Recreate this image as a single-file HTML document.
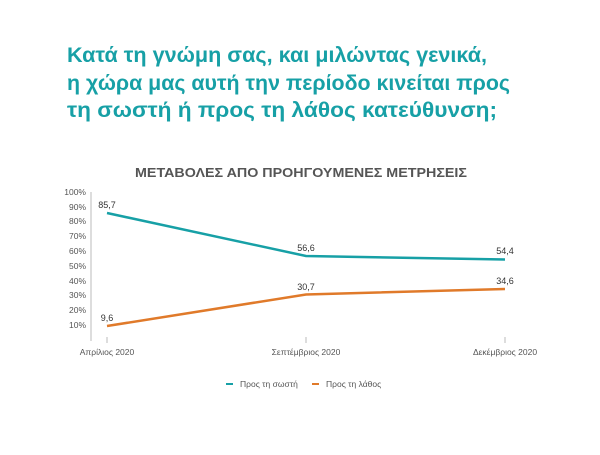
<!DOCTYPE html>
<html><head><meta charset="utf-8"><style>
body{margin:0;background:#fff;width:600px;height:450px;overflow:hidden;font-family:"Liberation Sans","DejaVu Sans",sans-serif}
</style></head><body>
<svg width="600" height="450" xmlns="http://www.w3.org/2000/svg" font-family="Liberation Sans, DejaVu Sans, sans-serif">
<g fill="#17a0a6" font-weight="bold" font-size="21.5">
<text x="67" y="62" textLength="420" lengthAdjust="spacingAndGlyphs">Κατά τη γνώμη σας, και μιλώντας γενικά,</text>
<text x="67" y="90" textLength="443" lengthAdjust="spacingAndGlyphs">η χώρα μας αυτή την περίοδο κινείται προς</text>
<text x="67" y="117" textLength="430" lengthAdjust="spacingAndGlyphs">τη σωστή ή προς τη λάθος κατεύθυνση;</text>
</g>
<text x="135" y="177" font-size="13" font-weight="bold" fill="#555" textLength="332" lengthAdjust="spacingAndGlyphs">ΜΕΤΑΒΟΛΕΣ ΑΠΟ ΠΡΟΗΓΟΥΜΕΝΕΣ ΜΕΤΡΗΣΕΙΣ</text>
<line x1="91" y1="192" x2="91" y2="341" stroke="#bbb" stroke-width="1"/>
<g font-size="8.5" fill="#555" text-anchor="end">
<text x="86" y="195">100%</text><text x="86" y="210">90%</text><text x="86" y="224">80%</text><text x="86" y="239">70%</text><text x="86" y="254">60%</text><text x="86" y="269">50%</text><text x="86" y="284">40%</text><text x="86" y="298">30%</text><text x="86" y="313">20%</text><text x="86" y="328">10%</text>
</g>
<g stroke="#bbb"><line x1="107" y1="337" x2="107" y2="343"/><line x1="306" y1="337" x2="306" y2="343"/><line x1="505" y1="337" x2="505" y2="343"/></g>
<g font-size="8.5" fill="#555" text-anchor="middle">
<text x="107" y="355">Απρίλιος 2020</text><text x="306" y="355">Σεπτέμβριος 2020</text><text x="505" y="355">Δεκέμβριος 2020</text>
</g>
<polyline points="107,213 306,256 505,259.5" fill="none" stroke="#17a0a6" stroke-width="2.5"/>
<polyline points="107,326 306,294.5 505,289" fill="none" stroke="#e07a2a" stroke-width="2.5"/>
<g font-size="9" fill="#333" text-anchor="middle">
<text x="107" y="208">85,7</text><text x="306" y="251">56,6</text><text x="505" y="254">54,4</text>
<text x="107" y="321">9,6</text><text x="306" y="290">30,7</text><text x="505" y="284">34,6</text>
</g>
<line x1="226" y1="384" x2="233" y2="384" stroke="#17a0a6" stroke-width="2"/>
<text x="240" y="387" font-size="8.5" fill="#555">Προς τη σωστή</text>
<line x1="312" y1="384" x2="319" y2="384" stroke="#e07a2a" stroke-width="2"/>
<text x="326" y="387" font-size="8.5" fill="#555">Προς τη λάθος</text>
</svg>
</body></html>
